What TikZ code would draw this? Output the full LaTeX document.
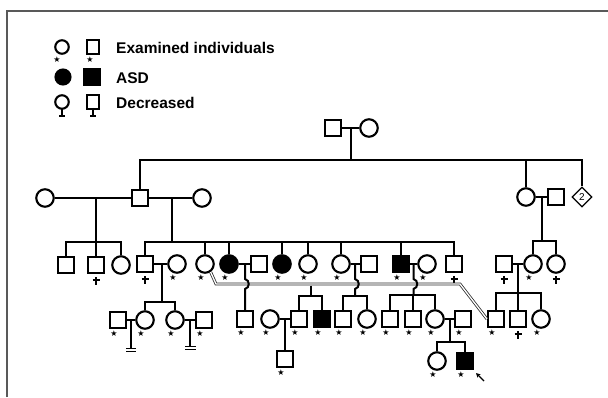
\documentclass[tikz,border=0pt]{standalone}
\usepackage{fontspec}
\setmainfont{Liberation Sans}
\newfontfamily\dejavu{DejaVu Sans}
\usetikzlibrary{shapes.geometric,arrows.meta,calc}
\begin{document}
\begin{tikzpicture}[x=1pt,y=-1pt,
  sym/.style={draw,line width=2.1pt,inner sep=0pt},
  male/.style={sym,rectangle,minimum width=16pt,minimum height=16pt},
  fem/.style={sym,circle,minimum size=17.5pt},
  aff/.style={fill=black},
  ln/.style={line width=2pt},
  thinln/.style={line width=1.4pt},
  starm/.style={inner sep=0pt,font=\dejavu\fontsize{8}{8}\selectfont},
  lgtext/.style={inner sep=0pt,font=\bfseries\fontsize{15.5}{16}\selectfont},
  dbl/.style={draw=gray!35!black,double=white,double distance=1.3pt,line width=0.8pt},
  frame/.style={draw=black!65,line width=2pt}]
\useasboundingbox (0,0) rectangle (608,397);
\draw[frame] (7,397) -- (7,11) -- (608,11);

% ---------- legend ----------
\node[fem,minimum size=13.5pt] (Lf1) at (62,47) {};
\node[male,minimum width=12.5pt,minimum height=14.5pt] (Lm1) at (93,47) {};
\node[starm] (Ls1) at (57,60) {★};
\node[starm] (Ls2) at (90,59.5) {★};
\node[fem,aff,minimum size=15pt] (Lf2) at (63,77) {};
\node[male,aff,minimum width=15pt,minimum height=15pt] (Lm2) at (92,77) {};
\node[fem,minimum size=13.5pt] (Lf3) at (62,102) {};
\node[male,minimum width=12.5pt,minimum height=13.5pt] (Lm3) at (93,102) {};
\foreach \n in {Lf3,Lm3}{
  \draw[thinln] ([yshift=2pt]\n.south) -- ++(0,8) ([shift={(-3,6)}]\n.south) -- ++(6,0);
}
\node[lgtext,anchor=base west] (Lt1) at (116,53) {Examined individuals};
\node[lgtext,anchor=base west] (Lt2) at (116,83) {ASD};
\node[lgtext,anchor=base west] (Lt3) at (116,108) {Decreased};

% ---------- generation I ----------
\node[male] (I1) at (333,128) {};
\node[fem]  (I2) at (369,128) {};

% ---------- generation II ----------
\node[fem]  (II1) at (45,198) {};
\node[male] (II2) at (140,198) {};
\node[fem]  (II3) at (202,198) {};
\node[fem]  (II4) at (526,197) {};
\node[male] (II5) at (556,197) {};
\node[draw,diamond,shape aspect=1,minimum size=20pt,inner sep=0pt,line width=1.3pt,
      font=\fontsize{10}{10}\selectfont] (II6) at (582,197) {2};

% ---------- generation III ----------
\node[male] (III1) at (66,265) {};
\node[male] (III2) at (96,265) {};
\node[fem]  (III3) at (121,265) {};
\node[male] (III4) at (145,264) {};
\node[fem]  (III5) at (177,264) {};
\node[fem]  (III6) at (205,264) {};
\node[fem,aff] (III7) at (229,264) {};
\node[male] (III8) at (259,264) {};
\node[fem,aff] (III9) at (282,264) {};
\node[fem]  (III10) at (308,264) {};
\node[fem]  (III11) at (341,264) {};
\node[male] (III12) at (369,264) {};
\node[male,aff] (III13) at (401,264) {};
\node[fem]  (III14) at (427,264) {};
\node[male] (III15) at (454,264) {};
\node[male] (III16) at (504,264) {};
\node[fem]  (III17) at (533,264) {};
\node[fem]  (III18) at (556,264) {};

% ---------- generation IV ----------
\node[male] (IV1) at (118,320) {};
\node[fem]  (IV2) at (145,320) {};
\node[fem]  (IV3) at (175,320) {};
\node[male] (IV4) at (204,320) {};
\node[male] (IV5) at (245,319) {};
\node[fem]  (IV6) at (270,319) {};
\node[male] (IV7) at (299,319) {};
\node[male,aff] (IV8) at (322,319) {};
\node[male] (IV9) at (343,319) {};
\node[fem]  (IV10) at (367,319) {};
\node[male] (IV11) at (390,319) {};
\node[male] (IV12) at (413,319) {};
\node[fem]  (IV13) at (435,319) {};
\node[male] (IV14) at (463,319) {};
\node[male] (IV15) at (496,319) {};
\node[male] (IV16) at (518,319) {};
\node[fem]  (IV17) at (541,319) {};

% ---------- generation V ----------
\node[male] (V1) at (285,359) {};
\node[fem]  (V2) at (437,361) {};
\node[male,aff] (V3) at (465,361) {};

% ---------- marks ----------
\foreach \n in {III5,III6,III7,III9,III10,III11,III13,III14,III17,
                IV1,IV2,IV3,IV4,IV5,IV6,IV7,IV8,IV9,IV10,IV11,IV12,IV13,IV14,IV15,IV17,
                V1,V2,V3}{
  \node[starm] (st-\n) at ([shift={(-4,14)}]\n.center) {★};
}
\foreach \n in {III2,III4,III15,III16,III18,IV16}{
  \draw[thinln] ([shift={(0,12)}]\n.center) -- ++(0,7.5) ([shift={(-3.5,15)}]\n.center) -- ++(7,0);
}

% ---------- connectors ----------
% gen I
\draw[ln] (I1) -- (I2);
\coordinate (c1) at (351,128);
\coordinate (c1b) at (351,160);
\draw[ln] (c1) -- (c1b);
\draw[ln] (II2.north) |- (II6.north |- c1b) -- (II6.north);
\draw[ln] (II4.north) -- (II4.north |- c1b);

% gen II left
\draw[ln] (II1) -- (II2);
\draw[ln] (II2) -- (II3);
\coordinate (c2) at (96,198);
\coordinate (c2b) at (96,242);
\draw[ln] (c2) -- (c2b);
\draw[ln] (III1.north) |- (III3.north |- c2b) -- (III3.north);
\draw[ln] (III2.north) -- (III2.north |- c2b);
\coordinate (c3) at (172,198);
\coordinate (c3b) at (172,242);
\draw[ln] (c3) -- (c3b);
\draw[ln] (III4.north) |- (III15.north |- c3b) -- (III15.north);
\foreach \n in {III6,III7,III9,III10,III11,III13}{
  \draw[ln] (\n.north) -- (\n.north |- c3b);
}

% gen II right
\draw[ln] (II4) -- (II5);
\coordinate (c4) at (542,197);
\coordinate (c4b) at (542,241);
\draw[ln] (c4) -- (c4b);
\draw[ln] (III17.north) |- (III18.north |- c4b) -- (III18.north);

% double line
\coordinate (d1) at (216,284);
\coordinate (d2) at (460,284);
\draw[dbl] (III6.-55) -- (d1) -- (d2) -- (IV15.west);

% gen III marriages
\draw[ln] (III4) -- (III5);
\draw[ln] (III7) -- (III8);
\draw[ln] (III11) -- (III12);
\draw[ln] (III13) -- (III14);
\draw[ln] (III16) -- (III17);

% III4 x III5
\coordinate (c5) at (162,264);
\coordinate (c5b) at (162,302);
\draw[ln] (c5) -- (c5b);
\draw[ln] (IV2.north) |- (IV3.north |- c5b) -- (IV3.north);

% III7 x III8 (hop over double line)
\coordinate (c6) at (245,264);
\draw[ln] (c6) -- (245,279) .. controls (250,280) and (250,288) .. (245,289) -- (IV5.north);

% from double line
\coordinate (c7) at (311,285.5);
\coordinate (c7b) at (311,296);
\draw[ln] (c7) -- (c7b);
\draw[ln] (IV7.north) |- (IV8.north |- c7b) -- (IV8.north);

% III11 x III12
\coordinate (c8) at (355,264);
\coordinate (c8b) at (355,296);
\draw[ln] (c8) -- (355,279) .. controls (360,280) and (360,288) .. (355,289) -- (c8b);
\draw[ln] (IV9.north) |- (IV10.north |- c8b) -- (IV10.north);

% III13 x III14
\coordinate (c9) at (413.5,264);
\coordinate (c9b) at (413.5,295);
\draw[ln] (c9) -- (413.5,279) .. controls (418.5,280) and (418.5,288) .. (413.5,289) -- (c9b);
\draw[ln] (IV11.north) |- (IV13.north |- c9b) -- (IV13.north);
\draw[ln] (IV12.north) -- (IV12.north |- c9b);

% III16 x III17
\coordinate (c10) at (518,264);
\coordinate (c10b) at (518,293);
\draw[ln] (c10) -- (c10b);
\draw[ln] (IV15.north) |- (IV17.north |- c10b) -- (IV17.north);
\draw[ln] (IV16.north) -- (IV16.north |- c10b);

% gen IV marriages
\draw[ln] (IV1) -- (IV2);
\coordinate (c11) at (131,320);
\coordinate (c11b) at (131,349);
\draw[ln] (c11) -- (c11b);
\draw[line width=1.2pt] (126,348.5) -- (136,348.5) (126,351.5) -- (136,351.5);

\draw[ln] (IV3) -- (IV4);
\coordinate (c12) at (190,320);
\coordinate (c12b) at (190,347);
\draw[ln] (c12) -- (c12b);
\draw[line width=1.2pt] (185,346.5) -- (196,346.5) (185,349.5) -- (196,349.5);

\draw[ln] (IV6) -- (IV7);
\coordinate (c13) at (285,319);
\draw[ln] (c13) -- (V1.north);

\draw[ln] (IV13) -- (IV14);
\coordinate (c14) at (449.5,319);
\coordinate (c14b) at (449.5,342);
\draw[ln] (c14) -- (c14b);
\draw[ln] (V2.north) |- (V3.north |- c14b) -- (V3.north);

% proband arrow
\coordinate (ar1) at (484,381);
\coordinate (ar2) at (476,373);
\draw[line width=1.2pt,-{Stealth[length=4.5pt,width=4.5pt]}] (ar1) -- (ar2);
\end{tikzpicture}
\end{document}
